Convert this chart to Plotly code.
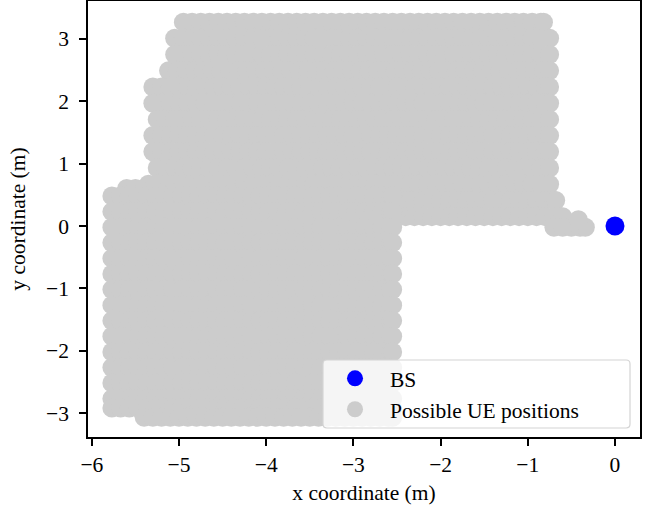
import numpy as np
import plotly.graph_objects as go

# Base station position
bs_x = [0.0]
bs_y = [0.0]

# Possible UE positions: grid rows.
# Each row: y value, leftmost x, rightmost x (grid step along x below)
row_y = [3.27, 3.01, 2.75, 2.49, 2.23, 1.97, 1.71, 1.45, 1.19, 0.93, 0.67, 0.60,
         0.41, 0.15,
         0.48, 0.23, -0.02, -0.27, -0.52, -0.77, -1.02, -1.27, -1.52, -1.77,
         -2.02, -2.27, -2.52, -2.77, -2.92, -3.07,
         -0.02, 0.10]
row_x_start = [-4.95, -5.05, -5.05, -5.12, -5.30, -5.30, -5.25, -5.30, -5.30, -5.25, -5.35, -5.60,
               -5.30, -2.60,
               -5.77, -5.77, -5.77, -5.77, -5.77, -5.77, -5.77, -5.77, -5.77, -5.77,
               -5.77, -5.77, -5.77, -5.77, -5.77, -5.40,
               -0.70, -0.42]
row_x_end = [-0.82, -0.75, -0.75, -0.75, -0.75, -0.75, -0.75, -0.75, -0.75, -0.75, -0.75, -5.30,
             -0.68, -0.60,
             -2.55, -2.55, -2.55, -2.55, -2.55, -2.55, -2.55, -2.55, -2.55, -2.55,
             -2.55, -2.55, -2.55, -2.55, -2.55, -2.55,
             -0.34, -0.42]
grid_dx = 0.1

ue_x, ue_y = [], []
for y, x0, x1 in zip(row_y, row_x_start, row_x_end):
    n = int(np.floor((x1 - x0) / grid_dx + 1e-9))
    xs = list(x0 + grid_dx * np.arange(n + 1))
    if xs[-1] < x1 - 1e-6:
        xs.append(x1)
    ue_x.extend(xs)
    ue_y.extend([y] * len(xs))

FONT = "Liberation Serif"
FS = 21.5

fig = go.Figure()
fig.add_trace(go.Scatter(
    x=ue_x, y=ue_y, mode="markers", name="Possible UE positions",
    marker=dict(color="#cccccc", size=19, line=dict(width=0)),
    legendrank=2,
))
fig.add_trace(go.Scatter(
    x=bs_x, y=bs_y, mode="markers", name="BS",
    marker=dict(color="#0000ff", size=19, line=dict(width=0)),
    legendrank=1,
))

axis_common = dict(
    showline=True, linecolor="black", linewidth=1.5, mirror=True,
    ticks="outside", ticklen=7, tickwidth=1.5, tickcolor="black",
    showgrid=False, zeroline=False, automargin=False,
    tickfont=dict(family=FONT, size=FS, color="black"),
)

# legend frame (rounded, semi-transparent), in paper coordinates
lx0, lx1, ly0, ly1 = 0.4257, 0.9819, 0.0206, 0.1766
rx, ry = 0.007, 0.009
legend_frame = (
    f"M {lx0+rx},{ly0} L {lx1-rx},{ly0} Q {lx1},{ly0} {lx1},{ly0+ry} "
    f"L {lx1},{ly1-ry} Q {lx1},{ly1} {lx1-rx},{ly1} "
    f"L {lx0+rx},{ly1} Q {lx0},{ly1} {lx0},{ly1-ry} "
    f"L {lx0},{ly0+ry} Q {lx0},{ly0} {lx0+rx},{ly0} Z"
)

fig.update_layout(
    width=657, height=510,
    margin=dict(l=88, r=17, t=1, b=73, autoexpand=False),
    paper_bgcolor="white", plot_bgcolor="white",
    font=dict(family=FONT, size=FS, color="black"),
    xaxis=dict(range=[-6.044, 0.287], dtick=1, tick0=0, ticklabelstandoff=0,
               title=dict(text="x coordinate (m)", font=dict(family=FONT, size=FS), standoff=9),
               **axis_common),
    yaxis=dict(range=[-3.385, 3.609], dtick=1, tick0=0, ticklabelstandoff=6,
               title=dict(text="y coordinate (m)", font=dict(family=FONT, size=FS), standoff=15),
               **axis_common),
    shapes=[dict(type="path", xref="paper", yref="paper", path=legend_frame,
                 fillcolor="rgba(255,255,255,0.8)", line=dict(color="#d4d4d4", width=1.2),
                 layer="above")],
    legend=dict(x=0.4203, y=0.0164, xanchor="left", yanchor="bottom",
                bgcolor="rgba(0,0,0,0)", borderwidth=0,
                font=dict(family=FONT, size=FS, color="black"), itemwidth=60,
                tracegroupgap=0),
    showlegend=True,
)

fig.write_html("out.html", config={"displayModeBar": False},
               post_script="document.body.style.margin='0';document.body.style.overflow='hidden';")
